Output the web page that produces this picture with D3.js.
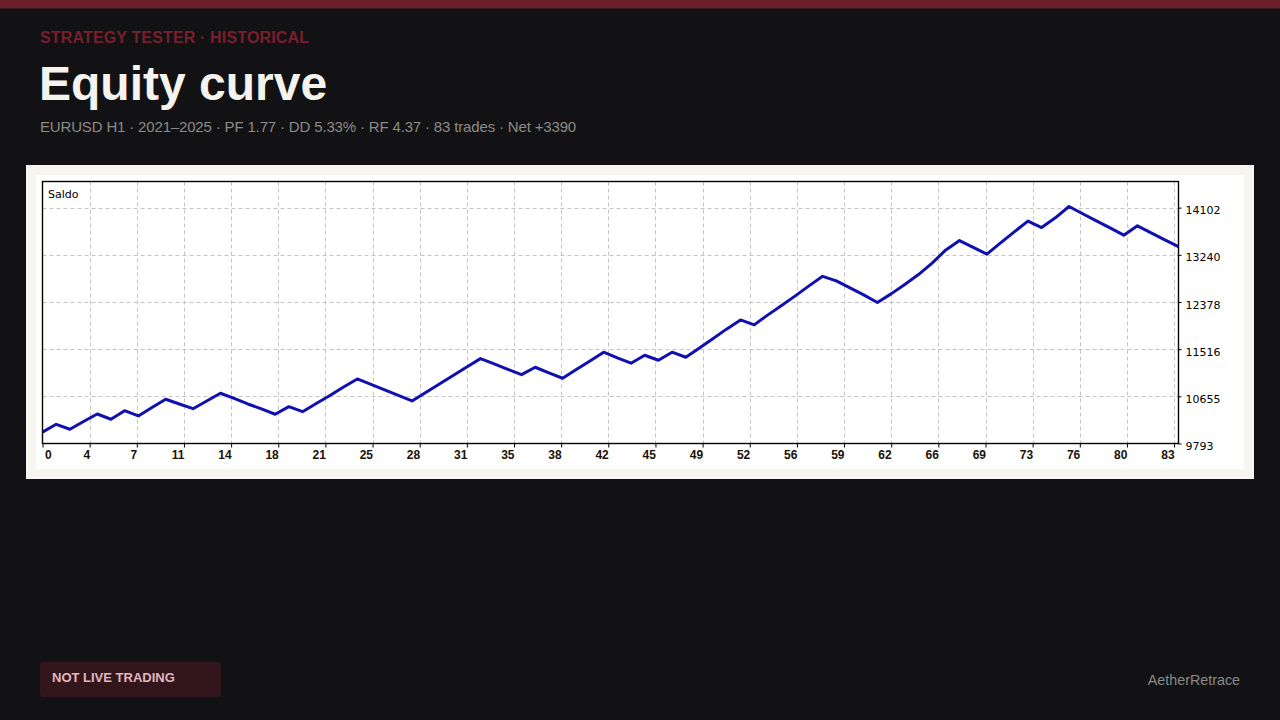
<!DOCTYPE html>
<html>
<head>
<meta charset="utf-8">
<script src="https://cdn.jsdelivr.net/npm/d3@7/dist/d3.min.js"></script>
<style>
  html, body { margin: 0; padding: 0; background: #121214; }
  svg { display: block; }
</style>
</head>
<body>
<svg id="chart" width="1280" height="720"></svg>
<script>
// ---- data ----
const trades = d3.range(0, 84); // deal index 0..83
const balance = [
  10000, 10144, 10053, 10195, 10332, 10236, 10393, 10296, 10451, 10601,
  10515, 10429, 10570, 10711, 10616, 10515, 10424, 10327, 10466, 10374,
  10524, 10671, 10826, 10972, 10872, 10771, 10671, 10570, 10726, 10881,
  11036, 11192, 11344, 11247, 11146, 11051, 11186, 11082, 10985, 11146,
  11302, 11461, 11356, 11260, 11406, 11314, 11461, 11369, 11539, 11713,
  11887, 12051, 11960, 12143, 12316, 12490, 12673, 12847, 12764, 12636,
  12508, 12368, 12527, 12700, 12880, 13090, 13330, 13501, 13377, 13253,
  13459, 13660, 13856, 13739, 13917, 14123, 13990, 13862, 13734, 13600,
  13770, 13642, 13514, 13390
];
const yTickValues = [9793, 10655, 11516, 12378, 13240, 14102];
const xTickLabels = [0, 4, 7, 11, 14, 18, 21, 25, 28, 31, 35, 38, 42, 45, 49, 52, 56, 59, 62, 66, 69, 73, 76, 80, 83];

const kicker = "STRATEGY TESTER · HISTORICAL";
const title = "Equity curve";
const subtitle = "EURUSD H1 · 2021–2025 · PF 1.77 · DD 5.33% · RF 4.37 · 83 trades · Net +3390";
const seriesName = "Saldo";
const badgeText = "NOT LIVE TRADING";
const brand = "AetherRetrace";

// ---- layout ----
const svg = d3.select("#chart");
const W = 1280, H = 720;
const plot = { left: 42.5, right: 1178.5, top: 181.5, bottom: 443.5 };
const gridStep = 47.15;

svg.append("rect").attr("width", W).attr("height", H).attr("fill", "#121214");
svg.append("rect").attr("width", W).attr("height", 8.5).attr("fill", "#6b1f2b");

const sans = "'Liberation Sans', Arial, Helvetica, sans-serif";
svg.append("text").attr("x", 40).attr("y", 43)
  .attr("font-family", sans).attr("font-weight", 700).attr("font-size", 16)
  .attr("letter-spacing", 0.15)
  .attr("fill", "#7a1e2c").text(kicker);
svg.append("text").attr("x", 39).attr("y", 100)
  .attr("font-family", sans).attr("font-weight", 700).attr("font-size", 48)
  .attr("fill", "#f5f3ee").text(title);
svg.append("text").attr("x", 40).attr("y", 132)
  .attr("font-family", sans).attr("font-size", 15).attr("letter-spacing", -0.16)
  .attr("fill", "#8c8a85").text(subtitle);

// card
svg.append("rect").attr("x", 26).attr("y", 165).attr("width", 1228).attr("height", 314).attr("fill", "#f7f5f0");
svg.append("rect").attr("x", 36).attr("y", 175).attr("width", 1208).attr("height", 294).attr("fill", "#ffffff");

// scales
const x = d3.scaleLinear().domain([0, 83]).range([plot.left, plot.right]);
const y = d3.scaleLinear().domain([9793, 14580]).range([plot.bottom, plot.top]);
const xGrid = d3.scaleLinear().domain([0, xTickLabels.length - 1])
  .range([plot.left, plot.left + gridStep * (xTickLabels.length - 1)]);

const g = svg.append("g");
const chartFont = "'DejaVu Sans', Verdana, Tahoma, sans-serif";

// grid
g.selectAll("line.hgrid").data(yTickValues.slice(1)).enter().append("line")
  .attr("x1", plot.left).attr("x2", plot.right)
  .attr("y1", d => Math.round(y(d)) + 0.5).attr("y2", d => Math.round(y(d)) + 0.5)
  .attr("stroke", "#c4c4c4").attr("stroke-width", 1).attr("stroke-dasharray", "4,3");
g.selectAll("line.vgrid").data(d3.range(1, xTickLabels.length)).enter().append("line")
  .attr("x1", d => Math.round(xGrid(d)) + 0.5).attr("x2", d => Math.round(xGrid(d)) + 0.5)
  .attr("y1", plot.top).attr("y2", plot.bottom)
  .attr("stroke", "#c4c4c4").attr("stroke-width", 1).attr("stroke-dasharray", "4,3");

// series name
g.append("text").attr("x", 48).attr("y", 197.5)
  .attr("font-family", chartFont).attr("font-size", 11).attr("fill", "#000").text(seriesName);

// line
const line = d3.line().x((d, i) => x(trades[i])).y(d => y(d));
g.append("path").datum(balance)
  .attr("d", line)
  .attr("fill", "none").attr("stroke", "#1010b0").attr("stroke-width", 3)
  .attr("stroke-linejoin", "round");

// frame
g.append("rect").attr("x", plot.left).attr("y", plot.top)
  .attr("width", plot.right - plot.left).attr("height", plot.bottom - plot.top)
  .attr("fill", "none").attr("stroke", "#000").attr("stroke-width", 1.4);

// y axis (right)
const yAxis = d3.axisRight(y).tickValues(yTickValues).tickSize(3).tickPadding(4).tickFormat(d3.format("d"));
const ya = g.append("g").attr("transform", `translate(${plot.right},0)`).call(yAxis);
ya.select(".domain").remove();
ya.selectAll("line").attr("stroke", "#000");
ya.selectAll("text").attr("font-family", chartFont).attr("font-size", 11).attr("fill", "#000").attr("dy", "0.55em");

// x axis (bottom), labels right-aligned to tick
const xAxis = d3.axisBottom(xGrid).tickValues(d3.range(0, xTickLabels.length))
  .tickSize(4).tickPadding(3).tickFormat(i => xTickLabels[i]);
const xa = g.append("g").attr("transform", `translate(0,${plot.bottom})`).call(xAxis);
xa.select(".domain").remove();
xa.selectAll("line").attr("stroke", "#000");
xa.selectAll("text").attr("font-family", sans).attr("font-weight", 700).attr("font-size", 12).attr("fill", "#1a1208")
  .attr("text-anchor", (d, i) => i === 0 ? "start" : "end")
  .attr("dx", (d, i) => i === 0 ? 2 : 0);

// footer
svg.append("rect").attr("x", 40).attr("y", 662).attr("width", 181).attr("height", 35).attr("rx", 4)
  .attr("fill", "#33161c");
svg.append("text").attr("x", 52).attr("y", 682).attr("font-family", sans).attr("font-weight", 700)
  .attr("font-size", 13).attr("fill", "#e2b7bb").text(badgeText);
svg.append("text").attr("x", 1240).attr("y", 685).attr("text-anchor", "end").attr("font-family", sans)
  .attr("font-size", 14.3).attr("fill", "#8a8a88").text(brand);
</script>
</body>
</html>
